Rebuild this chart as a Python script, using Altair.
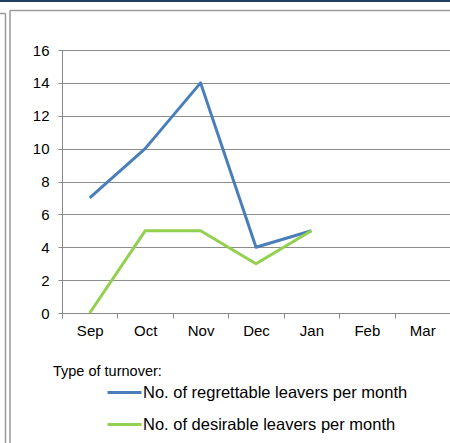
import altair as alt
import pandas as pd

months = ["Sep", "Oct", "Nov", "Dec", "Jan", "Feb", "Mar"]
data_months = ["Sep", "Oct", "Nov", "Dec", "Jan"]
regrettable = [7, 10, 14, 4, 5]
desirable = [0, 5, 5, 3, 5]
series_names = ["No. of regrettable leavers per month", "No. of desirable leavers per month"]
series_colors = ["#4A7EBB", "#92D050"]
y_ticks = [0, 2, 4, 6, 8, 10, 12, 14, 16]
legend_title = "Type of turnover:"

rows = []
for m, v in zip(data_months, regrettable):
    rows.append({"month": m, "value": v, "series": series_names[0]})
for m, v in zip(data_months, desirable):
    rows.append({"month": m, "value": v, "series": series_names[1]})
df = pd.DataFrame(rows)

FONT = "Liberation Sans"

lines = alt.Chart(df).mark_line(strokeWidth=3, strokeJoin="round").encode(
    x=alt.X("month:N", sort=months,
            scale=alt.Scale(type="band", domain=months, paddingInner=0, paddingOuter=0),
            axis=alt.Axis(title=None, labelAngle=0, tickBand="extent", grid=False,
                          tickSize=5, labelPadding=5, labelFontSize=15, labelFont=FONT,
                          labelColor="#000000", domainColor="#888888", tickColor="#888888")),
    y=alt.Y("value:Q", scale=alt.Scale(domain=[0, 16], nice=False),
            axis=alt.Axis(title=None, values=y_ticks, tickSize=4, labelPadding=9,
                          labelFontSize=15, labelFont=FONT, labelColor="#000000",
                          domainColor="#888888", tickColor="#888888",
                          gridColor="#8C8C8C", gridWidth=1)),
    color=alt.Color("series:N", sort=series_names,
                    scale=alt.Scale(domain=series_names, range=series_colors),
                    legend=alt.Legend(title=None, orient="none", legendX=44, legendY=324,
                                      symbolType="stroke", symbolSize=1156, symbolStrokeWidth=3,
                                      labelFontSize=16.5, labelFont=FONT, labelColor="#000000",
                                      labelOffset=0, rowPadding=5, padding=0,
                                      labelLimit=400)),
)

title_df = pd.DataFrame({"t": [legend_title]})
title_text = alt.Chart(title_df).mark_text(align="left", baseline="alphabetic",
                                           fontSize=14.5, font=FONT, color="#000000").encode(
    text="t:N", x=alt.value(-9), y=alt.value(326))

frame_df = pd.DataFrame({"k": [0]})
top_bar = alt.Chart(frame_df).mark_rule(color="#1F3F60", strokeWidth=2).encode(
    x=alt.value(-62), x2=alt.value(390), y=alt.value(-49))
inner_top = alt.Chart(frame_df).mark_rule(color="#9A9A9A", strokeWidth=1.5).encode(
    x=alt.value(-52), x2=alt.value(390), y=alt.value(-39.5))
inner_left = alt.Chart(frame_df).mark_rule(color="#9A9A9A", strokeWidth=1.5).encode(
    x=alt.value(-52), y=alt.value(-39.5), y2=alt.value(395))
outer_top = alt.Chart(frame_df).mark_rule(color="#9A9A9A", strokeWidth=1.5).encode(
    x=alt.value(-62), x2=alt.value(-56.5), y=alt.value(-36.5))
outer_left = alt.Chart(frame_df).mark_rule(color="#9A9A9A", strokeWidth=1.5).encode(
    x=alt.value(-56.5), y=alt.value(-36.5), y2=alt.value(395))

chart = alt.layer(top_bar, inner_top, inner_left, outer_top, outer_left, lines, title_text).properties(
    width=388, height=263,
    padding={"left": 62, "top": 50, "right": 0, "bottom": 130},
    autosize=alt.AutoSizeParams(type="none"),
).configure_view(stroke=None).configure(background="#FFFFFF")

chart.save("out.html", embed_options={"renderer": "svg", "actions": False})
